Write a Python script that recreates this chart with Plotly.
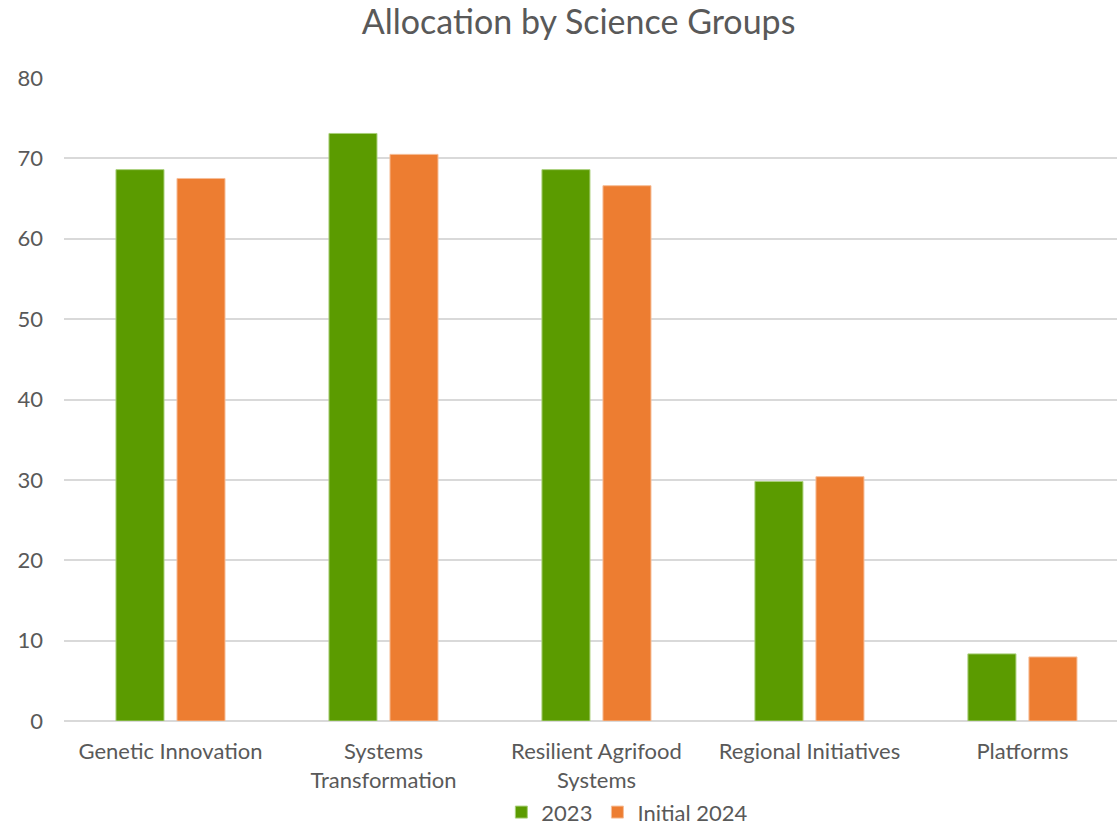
import plotly.graph_objects as go

# Science group categories (two-line labels where the axis wraps them)
categories = [
    "Genetic Innovation",
    "Systems<br>Transformation",
    "Resilient Agrifood<br>Systems",
    "Regional Initiatives",
    "Platforms",
]
values_2023 = [68.6, 73.1, 68.6, 29.8, 8.35]
values_2024 = [67.5, 70.5, 66.6, 30.4, 7.97]

GREEN = "#5B9B00"
ORANGE = "#ED7D31"
TEXT = "#595959"
FONT = "Lato, 'Open Sans', sans-serif"

fig = go.Figure()
fig.add_trace(go.Bar(
    name="2023", x=categories, y=values_2023,
    marker=dict(color=GREEN, line=dict(color="#A9CF7A", width=1)),
))
fig.add_trace(go.Bar(
    name="Initial 2024", x=categories, y=values_2024,
    marker=dict(color=ORANGE, line=dict(color="#F6BE98", width=1)),
))

fig.update_layout(
    width=1117, height=825,
    margin=dict(l=64, r=0, t=78, b=104, autoexpand=False),
    paper_bgcolor="white", plot_bgcolor="white",
    font=dict(family=FONT, color=TEXT, size=22),
    title=dict(
        text="Allocation by Science Groups",
        x=0.518, xanchor="center", y=0.973, yanchor="middle",
        font=dict(size=34, color=TEXT, family=FONT),
    ),
    barmode="group",
    bargap=0.427,
    bargroupgap=0.213,
    showlegend=True,
    legend=dict(
        orientation="h", x=0.535, xanchor="center",
        y=-0.142, yanchor="middle",
        font=dict(size=22, color=TEXT),
        itemwidth=30, tracegroupgap=0,
    ),
)
fig.update_xaxes(
    range=[-0.5, 4.444],
    showgrid=False, showline=False, ticks="",
    tickfont=dict(size=22, color=TEXT),
    ticklabelstandoff=15,
)
fig.update_yaxes(
    range=[0, 80], dtick=10,
    showgrid=True, gridcolor="#D9D9D9", gridwidth=1.5,
    zeroline=True, zerolinecolor="#D9D9D9", zerolinewidth=1.5,
    showline=False, ticks="",
    tickfont=dict(size=22, color=TEXT),
    ticklabelstandoff=20,
)

fig.write_html("out.html")
